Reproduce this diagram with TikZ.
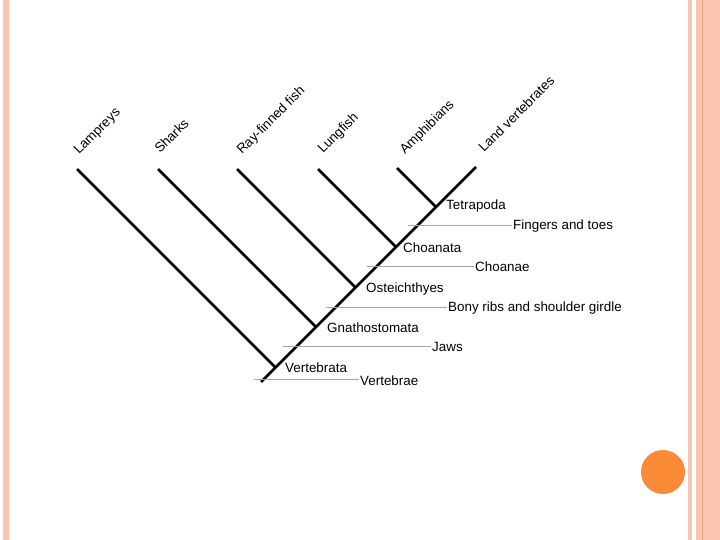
\documentclass[tikz,border=0pt]{standalone}
\usepackage{fontspec}
\setmainfont{Liberation Sans}
\begin{document}
\begin{tikzpicture}[x=1pt,y=-1pt,
  branch/.style={line width=2.6pt, black},
  charline/.style={line width=0.9pt, draw=black!35},
  lbl/.style={font=\fontsize{13.4}{15}\selectfont},
  taxon/.style={lbl, rotate=45, anchor=base west, inner sep=0pt},
  clade/.style={lbl, anchor=west, inner sep=0pt},
  trait/.style={lbl, anchor=west, inner sep=1pt}]
\definecolor{stripe}{HTML}{F9C6B2}
\definecolor{stripedark}{HTML}{EFA184}
\definecolor{dot}{HTML}{FA8A36}
\useasboundingbox (0,0) rectangle (720,540);
\fill[white] (0,0) rectangle (720,540);
% decorative stripes
\fill[stripe] (3,0) rectangle (9,540);
\fill[stripe] (688,0) rectangle (692,540);
\fill[stripe] (696,0) rectangle (720,540);
\fill[stripedark] (701.5,0) rectangle (703,540);
\fill[dot] (663,472) circle (22);
% taxa labels
\node[taxon] (lam) at (79,155) {Lampreys};
\node[taxon] (sha) at (160,154) {Sharks};
\node[taxon] (ray) at (242,155) {Ray-finned fish};
\node[taxon] (lun) at (323,154) {Lungfish};
\node[taxon] (amp) at (405,155) {Amphibians};
\node[taxon] (lan) at (484,153) {Land vertebrates};
% branch tips and junctions
\coordinate (tLam) at (77,169);
\coordinate (tSha) at (158,169);
\coordinate (tRay) at (237,169);
\coordinate (tLun) at (318,169);
\coordinate (tAmp) at (397,168);
\coordinate (tLan) at (476,167);
\coordinate (root) at (261,382);
\coordinate (jVer) at (275.5,367.5);
\coordinate (jGna) at (316,327);
\coordinate (jOst) at (355.5,287.5);
\coordinate (jCho) at (396,247);
\coordinate (jTet) at (436,207);
% branches
\draw[branch] (root) -- (tLan);
\draw[branch] (tLam) -- (jVer);
\draw[branch] (tSha) -- (jGna);
\draw[branch] (tRay) -- (jOst);
\draw[branch] (tLun) -- (jCho);
\draw[branch] (tAmp) -- (jTet);
% clade labels
\node[clade] (vert) at (285,368) {Vertebrata};
\node[clade] (gnat) at (327,328) {Gnathostomata};
\node[clade] (oste) at (366,289) {Osteichthyes};
\node[clade] (choa) at (403,248) {Choanata};
\node[clade] (tetr) at (446,206) {Tetrapoda};
% characters
\node[trait] (cVer) at (359,381) {Vertebrae};
\node[trait] (cJaw) at (431,347) {Jaws};
\node[trait] (cBon) at (447,308) {Bony ribs and shoulder girdle};
\node[trait] (cCho) at (474,267) {Choanae};
\node[trait] (cFin) at (512,226) {Fingers and toes};
\coordinate (sVer) at (254,379.5);
\coordinate (sJaw) at (283,346);
\coordinate (sBon) at (326,307);
\coordinate (sCho) at (367,266);
\coordinate (sFin) at (408,225);
\draw[charline] (sVer) -- (sVer -| cVer.west);
\draw[charline] (sJaw) -- (sJaw -| cJaw.west);
\draw[charline] (sBon) -- (sBon -| cBon.west);
\draw[charline] (sCho) -- (sCho -| cCho.west);
\draw[charline] (sFin) -- (sFin -| cFin.west);
\end{tikzpicture}
\end{document}
